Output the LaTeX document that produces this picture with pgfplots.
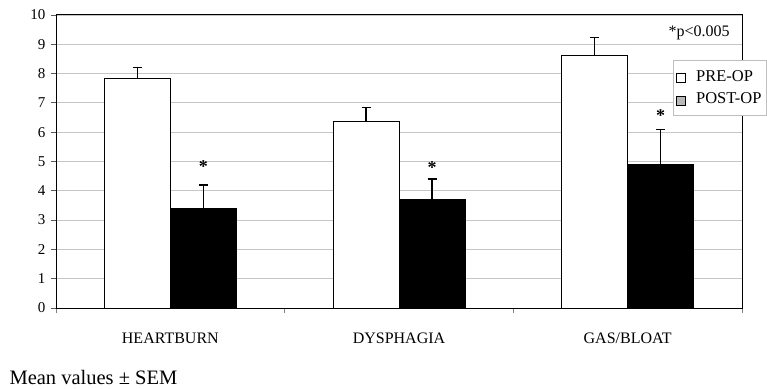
\documentclass[border=0pt]{standalone}
\usepackage{pgfplots}
\pgfplotsset{compat=1.18}
\usepackage{fontspec}
\setmainfont{Liberation Serif}
\newcommand{\lgf}{\fontsize{16.5}{18}\selectfont}
\begin{document}
\begin{tikzpicture}[font=\fontsize{16}{18}\selectfont]
\path[use as bounding box] (0,0) rectangle (767pt,388pt);
\begin{axis}[
  at={(56pt,80pt)}, anchor=south west,
  scale only axis, width=686pt, height=293pt,
  xmin=0, xmax=3, ymin=0, ymax=10,
  xtick={0.5,1.5,2.5},
  xticklabels={HEARTBURN,DYSPHAGIA,GAS/BLOAT},
  minor xtick={0,1,2,3},
  major x tick style={draw=none},
  minor x tick style={gray, line width=0.6pt},
  minor tick length=5pt,
  ytick={0,1,...,10},
  tick align=outside,
  major tick length=5pt,
  ymajorgrids, grid style={gray!45, line width=0.8pt},
  axis line style={black, line width=1pt},
  y tick style={gray!70!black, line width=0.8pt},
  xtick pos=bottom, ytick pos=left,
  xticklabel style={font=\fontsize{16}{18}\selectfont, yshift=-16pt},
  yticklabel style={font=\fontsize{15}{17}\selectfont, xshift=-2pt},
  /pgf/number format/assume math mode=true,
  legend style={at={(rel axis cs:0.899,0.846)}, anchor=north west,
    draw=gray!50, line width=0.8pt, inner xsep=3pt, inner ysep=8pt, row sep=6pt,
    nodes={inner sep=2pt},
    /tikz/every odd column/.append style={column sep=8pt}},
  legend image code/.code={\draw[#1] (0pt,-6pt) rectangle (9pt,3pt);},
  legend cell align=left,
]
\addplot[ybar, bar width=66pt, bar shift=0pt, fill=white, draw=black, line width=1pt, forget plot,
  error bars/.cd, y dir=plus, y explicit, error mark=-,
  error bar style={black, line width=1.3pt},
  error mark options={black, line width=1.3pt, mark size=4.5pt, rotate=90}]
  coordinates {(0.3557,7.82) +- (0,0.39) (1.3557,6.35) +- (0,0.50) (2.3557,8.61) +- (0,0.62)};
\addplot[ybar, bar width=66pt, bar shift=0pt, fill=black, draw=black, line width=1pt, forget plot,
  error bars/.cd, y dir=plus, y explicit, error mark=-,
  error bar style={black, line width=1.3pt},
  error mark options={black, line width=1.3pt, mark size=4.5pt, rotate=90}]
  coordinates {(0.6443,3.38) +- (0,0.82) (1.6443,3.71) +- (0,0.69) (2.6443,4.90) +- (0,1.20)};
\addplot[only marks, mark=none, forget plot,
  nodes near coords={*}, nodes near coords align={center},
  every node near coord/.append style={anchor=center, font=\fontsize{18}{18}\selectfont\bfseries}]
  coordinates {(0.6443,4.82) (1.6443,4.80) (2.6443,6.57)};
\addlegendimage{fill=white, draw=black, line width=1pt}
\addlegendentry{\lgf PRE-OP}
\addlegendimage{fill=gray!55, draw=black, line width=1pt}
\addlegendentry{\lgf POST-OP}
\node[anchor=east] at (rel axis cs:0.987,0.939) {*p<0.005};
\end{axis}
\node[anchor=west] at (6pt,11pt) {\fontsize{20.5}{22}\selectfont Mean values ± SEM};
\end{tikzpicture}
\end{document}
